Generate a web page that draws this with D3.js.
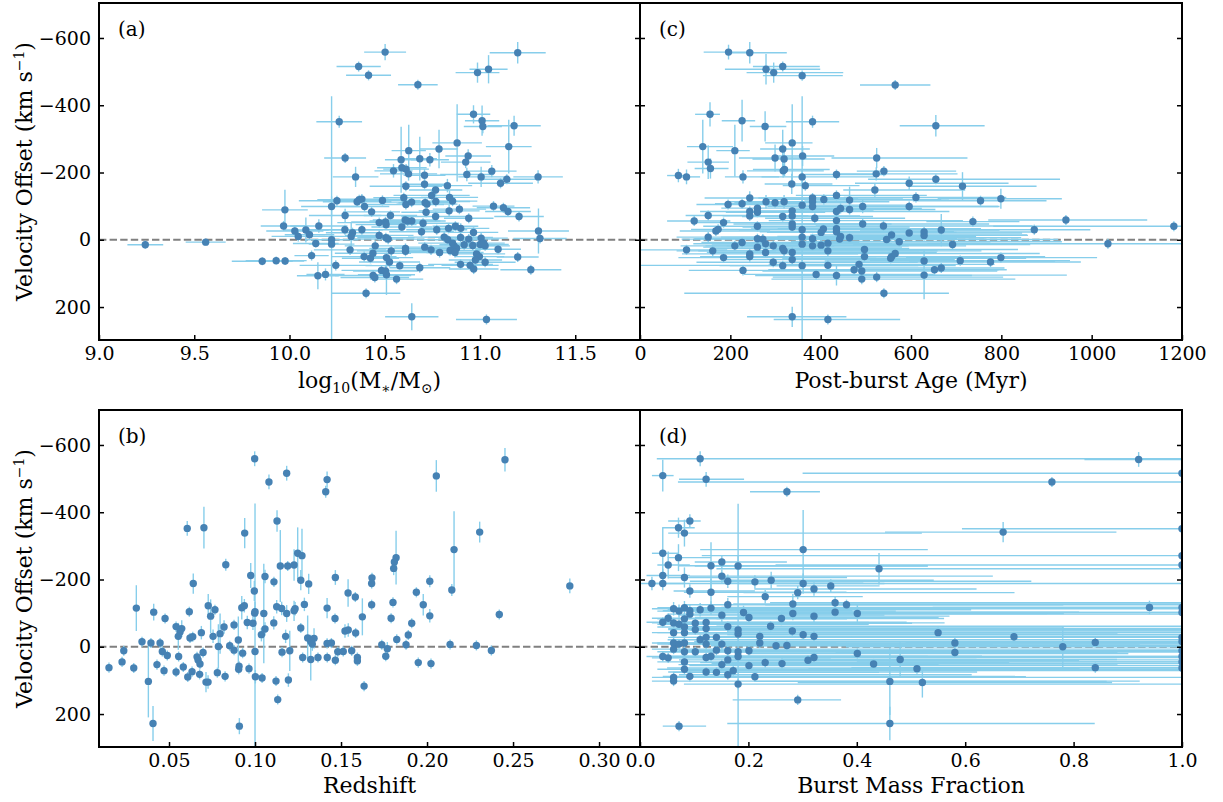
<!DOCTYPE html>
<html>
<head>
<meta charset="utf-8">
<script src="https://cdn.jsdelivr.net/npm/d3@7"></script>
<style>
  body { margin: 0; background: #fff; }
  svg { display: block; }
  text { font-family: 'DejaVu Serif', serif; fill: #000; }
</style>
</head>
<body>
<script>
// velocity ticks shared by all panels
var velTicks = [-600, -400, -200, 0, 200]
var massTicks = [9.0, 9.5, 10.0, 10.5, 11.0, 11.5]
var ageTicks = [0, 200, 400, 600, 800, 1000, 1200]
var zTicks = [0.05, 0.10, 0.15, 0.20, 0.25, 0.30]
var fracTicks = [0.0, 0.2, 0.4, 0.6, 0.8, 1.0]

// (a) [log mass, velocity, mass err, velocity err]
var massPts = [
  [9.243, 15, 0.094, 12], [9.560, 7, 0.105, 10], [9.976, -89, 0.12, 60], [9.969, -41, 0.12, 15],
  [10.028, -26, 0.15, 15], [10.086, -29, 0.12, 37], [10.046, -10, 0.14, 15], [10.105, -15, 0.13, 12],
  [10.154, -41, 0.15, 20], [10.138, 11, 0.12, 12], [10.116, 47, 0.09, 15], [9.857, 64, 0.16, 12],
  [9.930, 62, 0.16, 12], [9.977, 63, 0.10, 12], [10.149, 107, 0.11, 40], [10.189, 103, 0.10, 18],
  [10.502, -558, 0.11, 24], [10.363, -515, 0.116, 15], [10.415, -489, 0.118, 15], [10.674, -461, 0.104, 15],
  [10.987, -497, 0.115, 30], [11.045, -507, 0.10, 42], [11.198, -556, 0.147, 32], [10.261, -351, 0.12, 18],
  [10.221, -99, 0.16, 30], [10.292, -243, 0.11, 15], [10.347, -187, 0.12, 30], [10.966, -373, 0.088, 27],
  [11.011, -354, 0.09, 45], [11.015, -337, 0.10, 20], [11.179, -339, 0.14, 30], [11.151, -277, 0.12, 80],
  [10.880, -288, 0.13, 115], [10.785, -270, 0.10, 57], [10.626, -265, 0.09, 77], [10.586, -238, 0.085, 98],
  [10.684, -241, 0.09, 65], [10.737, -238, 0.10, 20], [10.938, -249, 0.12, 20], [10.925, -231, 0.13, 18],
  [10.546, -205, 0.10, 20], [10.590, -214, 0.13, 15], [10.612, -210, 0.12, 15], [10.625, -196, 0.15, 20],
  [10.709, -192, 0.11, 18], [10.931, -194, 0.14, 20], [11.006, -187, 0.12, 30], [11.062, -204, 0.13, 18],
  [11.108, -168, 0.17, 15], [11.141, -180, 0.15, 15], [11.305, -187, 0.13, 20], [10.709, -165, 0.12, 15],
  [10.611, -159, 0.19, 15], [10.829, -161, 0.13, 20], [10.767, -148, 0.14, 15], [10.746, -132, 0.20, 15],
  [10.600, -125, 0.16, 15], [10.840, -126, 0.15, 20], [10.856, -115, 0.13, 15], [10.768, -114, 0.18, 15],
  [10.641, -112, 0.17, 15], [10.611, -105, 0.20, 15], [10.712, -110, 0.14, 15], [10.722, -106, 0.16, 15],
  [10.488, -117, 0.20, 15], [10.366, -119, 0.22, 15], [10.380, -121, 0.14, 15], [10.355, -113, 0.18, 15],
  [10.394, -99, 0.13, 15], [10.249, -116, 0.20, 15], [10.431, -83, 0.15, 15], [10.292, -72, 0.19, 20],
  [10.530, -72, 0.14, 15], [10.717, -82, 0.13, 15], [10.838, -86, 0.16, 18], [10.892, -91, 0.14, 15],
  [10.767, -69, 0.18, 15], [10.941, -64, 0.13, 15], [11.071, -100, 0.11, 15], [11.123, -95, 0.14, 15],
  [11.147, -84, 0.12, 15], [11.205, -69, 0.13, 15], [10.471, -51, 0.22, 15], [10.504, -53, 0.18, 15],
  [10.507, -45, 0.16, 15], [10.607, -59, 0.17, 15], [10.620, -56, 0.20, 15], [10.642, -56, 0.15, 15],
  [10.701, -49, 0.19, 15], [10.590, -38, 0.16, 15], [10.291, -30, 0.20, 15], [10.331, -21, 0.14, 15],
  [10.324, -10, 0.17, 40], [10.380, -30, 0.21, 15], [10.471, -13, 0.18, 15], [10.506, -6, 0.15, 15],
  [10.518, -2, 0.19, 15], [10.693, -24, 0.17, 15], [10.773, -30, 0.16, 15], [10.835, -34, 0.14, 15],
  [10.871, -40, 0.12, 15], [10.899, -34, 0.15, 15], [10.966, -22, 0.13, 15], [10.812, -8, 0.19, 15],
  [10.831, 0, 0.16, 15], [10.856, 10, 0.18, 15], [10.864, 18, 0.14, 15], [10.877, 25, 0.15, 15],
  [10.898, -7, 0.17, 15], [10.917, 15, 0.13, 15], [10.941, -2, 0.16, 15], [10.962, 17, 0.12, 15],
  [11.006, -5, 0.14, 15], [11.001, 14, 0.15, 15], [11.027, 18, 0.13, 15], [11.020, 10, 0.11, 15],
  [10.221, 0, 0.14, 15], [10.221, 13, 0.12, 440], [11.307, -26, 0.16, 67], [11.315, -4, 0.14, 15],
  [10.318, 30, 0.19, 15], [10.392, 50, 0.17, 15], [10.425, 55, 0.15, 15], [10.438, 40, 0.20, 15],
  [10.450, 18, 0.16, 15], [10.534, 33, 0.18, 15], [10.509, 53, 0.14, 15], [10.525, 66, 0.16, 15],
  [10.609, 26, 0.19, 15], [10.609, 34, 0.17, 15], [10.710, 22, 0.16, 15], [10.743, 30, 0.14, 15],
  [10.788, 38, 0.18, 15], [10.843, 32, 0.16, 15], [10.869, 38, 0.15, 15], [10.982, 42, 0.15, 15],
  [10.997, 50, 0.13, 15], [10.976, 60, 0.14, 15], [11.027, 67, 0.16, 15], [11.095, 28, 0.12, 15],
  [11.198, 51, 0.11, 15], [11.267, 89, 0.16, 15], [10.898, 73, 0.17, 15], [10.948, 76, 0.15, 15],
  [10.967, 87, 0.13, 15], [10.243, 76, 0.19, 15], [10.579, 77, 0.18, 15], [10.684, 83, 0.16, 15],
  [10.483, 91, 0.21, 15], [10.504, 93, 0.17, 15], [10.509, 104, 0.15, 60], [10.439, 106, 0.20, 15],
  [10.448, 112, 0.18, 15], [10.562, 117, 0.14, 15], [10.402, 159, 0.18, 15], [10.642, 229, 0.14, 40],
  [11.034, 237, 0.16, 15]
]

// (c) [age Myr, velocity, age err low, age err high, velocity err]
var agePts = [
  [196, -558, 55, 55, 22], [243, -556, 51, 82, 32], [279, -507, 91, 120, 45], [296, -497, 60, 154, 30],
  [316, -515, 66, 82, 15], [359, -488, 87, 90, 15], [565, -460, 78, 78, 15], [155, -373, 33, 22, 36],
  [226, -354, 45, 29, 62], [277, -337, 34, 47, 45], [382, -351, 59, 59, 18], [139, -277, 35, 67, 80],
  [210, -265, 41, 33, 77], [337, -288, 60, 45, 115], [151, -231, 46, 46, 50], [156, -212, 35, 40, 30],
  [316, -270, 50, 60, 57], [299, -243, 80, 70, 40], [319, -240, 70, 90, 30], [360, -249, 60, 70, 30],
  [317, -205, 80, 90, 20], [320, -209, 70, 100, 20], [85, -191, 25, 20, 20], [103, -187, 20, 30, 22],
  [228, -187, 40, 80, 20], [359, -187, 90, 160, 20], [336, -166, 60, 90, 30], [366, -161, 50, 120, 15],
  [435, -194, 70, 110, 15], [524, -243, 100, 201, 30], [523, -196, 80, 180, 20], [540, -204, 60, 160, 15],
  [520, -148, 70, 200, 20], [596, -168, 120, 220, 20], [243, -124, 100, 240, 20], [195, -105, 70, 110, 15],
  [226, -107, 60, 140, 15], [279, -113, 80, 120, 20], [299, -110, 90, 160, 15], [319, -113, 70, 150, 20],
  [243, -84, 110, 160, 15], [260, -94, 80, 200, 15], [260, -82, 70, 150, 15], [243, -71, 60, 130, 15],
  [316, -69, 90, 200, 15], [337, -86, 70, 180, 15], [337, -71, 100, 150, 15], [359, -103, 80, 240, 15],
  [382, -124, 120, 200, 15], [382, -113, 90, 170, 15], [382, -99, 100, 220, 15], [407, -120, 130, 260, 15],
  [435, -132, 90, 200, 15], [387, -64, 110, 200, 15], [435, -84, 120, 250, 15], [444, -93, 90, 180, 15],
  [464, -118, 100, 220, 40], [464, -90, 120, 190, 15], [493, -99, 110, 300, 20], [596, -99, 130, 200, 15],
  [120, -56, 60, 80, 15], [151, -72, 50, 110, 15], [185, -51, 70, 150, 15], [168, -26, 80, 120, 15],
  [173, -31, 60, 140, 15], [151, -8, 70, 160, 15], [260, -40, 120, 180, 15], [337, -47, 130, 220, 15],
  [337, -38, 110, 260, 15], [359, -30, 140, 240, 15], [406, -32, 160, 260, 15], [401, -22, 120, 300, 15],
  [435, -57, 150, 280, 15], [435, -33, 130, 320, 20], [435, -24, 170, 260, 15], [444, -10, 140, 300, 15],
  [493, -47, 160, 280, 15], [539, -41, 150, 330, 15], [557, -14, 180, 300, 15], [596, -20, 160, 250, 15],
  [103, 30, 103, 90, 15], [161, 33, 80, 140, 15], [185, 53, 100, 160, 15], [210, 18, 120, 220, 15],
  [226, 8, 90, 260, 15], [243, 42, 150, 240, 15], [243, 50, 110, 280, 15], [260, -3, 140, 300, 15],
  [260, 22, 120, 320, 15], [278, 12, 160, 280, 15], [278, 38, 130, 340, 15], [272, -2, 180, 260, 15],
  [295, 18, 150, 300, 15], [295, 67, 170, 320, 15], [316, 26, 160, 280, 15], [319, 33, 190, 340, 15],
  [316, 77, 140, 300, 15], [337, 38, 170, 320, 15], [337, 59, 150, 360, 15], [359, -8, 180, 300, 15],
  [359, 13, 200, 360, 440], [359, 77, 160, 340, 20], [382, -3, 170, 320, 15], [382, 18, 190, 340, 15],
  [401, 16, 180, 300, 15], [416, 10, 200, 360, 15], [416, 33, 170, 340, 15], [416, 76, 416, 100, 15],
  [390, 103, 160, 260, 15], [435, 106, 180, 300, 30], [442, -2, 200, 320, 15], [464, -6, 180, 380, 15],
  [497, 29, 200, 340, 15], [497, 50, 210, 360, 15], [474, 89, 190, 320, 15], [485, 73, 200, 300, 15],
  [491, 93, 220, 300, 15], [491, 117, 200, 340, 15], [524, 111, 230, 280, 15], [546, -1, 210, 380, 15],
  [555, 55, 240, 300, 15], [557, 50, 220, 340, 15], [565, 41, 230, 320, 15], [574, 6, 240, 360, 15],
  [540, 159, 442, 144, 15], [228, 91, 120, 260, 15], [337, 229, 100, 120, 30], [416, 237, 120, 160, 15],
  [655, -339, 80, 108, 32], [655, -180, 150, 275, 15], [714, -159, 120, 164, 42], [611, -126, 160, 200, 15],
  [754, -116, 150, 146, 15], [799, -122, 140, 135, 30], [737, -54, 103, 103, 15], [943, -59, 172, 180, 15],
  [1182, -40, 400, 20, 15], [667, -29, 180, 129, 48], [629, -23, 200, 250, 15], [629, -13, 180, 230, 15],
  [873, -30, 297, 124, 15], [692, 14, 220, 172, 15], [1036, 12, 400, 180, 15], [629, 63, 220, 290, 15],
  [709, 62, 200, 243, 15], [776, 66, 180, 200, 15], [799, 53, 210, 213, 15], [652, 89, 200, 160, 15],
  [667, 84, 190, 140, 15], [629, 105, 180, 316, 72]
]

// (b) [redshift, velocity, velocity err]
var zPts = [
  [0.0998, -559, 22], [0.1184, -516, 22], [0.1081, -490, 22], [0.1419, -497, 24], [0.1411, -461, 18],
  [0.0606, -352, 22], [0.0703, -354, 62], [0.0940, -338, 45], [0.1128, -374, 32], [0.1248, -278, 77],
  [0.1273, -271, 80], [0.0830, -244, 18], [0.1147, -240, 107], [0.1190, -240, 15], [0.1227, -243, 47],
  [0.0975, -212, 37], [0.1058, -209, 20], [0.1266, -198, 30], [0.1110, -193, 15], [0.1312, -187, 30],
  [0.0641, -188, 30], [0.1467, -206, 22], [0.0996, -166, 30], [0.1541, -160, 41], [0.1583, -148, 15],
  [0.0310, -115, 68], [0.0411, -103, 25], [0.0618, -104, 15], [0.0728, -122, 35], [0.0767, -110, 15],
  [0.0742, -91, 50], [0.0477, -84, 15], [0.0923, -116, 35], [0.0938, -122, 20], [0.1000, -104, 30],
  [0.0998, -100, 20], [0.1051, -99, 148], [0.1126, -119, 20], [0.1155, -114, 20], [0.1184, -99, 25],
  [0.1227, -107, 30], [0.1233, -113, 20], [0.1287, -126, 20], [0.1419, -115, 30], [0.1465, -84, 15],
  [0.1624, -89, 55], [0.0541, -60, 15], [0.0574, -54, 25], [0.0564, -44, 20], [0.0554, -31, 40],
  [0.0622, -26, 15], [0.0638, -30, 15], [0.0688, -42, 20], [0.0756, -31, 20], [0.0797, -39, 60],
  [0.0820, -59, 20], [0.0878, -65, 15], [0.0955, -72, 20], [0.0988, -70, 20], [0.1109, -71, 20],
  [0.1058, -53, 20], [0.1037, -36, 20], [0.1178, -31, 20], [0.1266, -56, 15], [0.1306, -26, 67],
  [0.1343, -25, 30], [0.1324, -16, 20], [0.1333, -8, 20], [0.1419, -10, 15], [0.1444, -11, 15],
  [0.1523, -47, 20], [0.1542, -50, 20], [0.1585, -41, 15], [0.0343, -15, 15], [0.0395, -11, 15],
  [0.0448, -11, 15], [0.0903, -20, 70], [0.0787, -1, 66], [0.0853, -3, 15], [0.0878, 10, 15],
  [0.0151, 62, 15], [0.0227, 45, 15], [0.0295, 63, 15], [0.0237, 12, 15], [0.0461, 14, 15],
  [0.0490, 26, 15], [0.0430, 53, 15], [0.0471, 71, 15], [0.0380, 103, 107], [0.0407, 228, 52],
  [0.0541, 75, 15], [0.0556, 29, 15], [0.0583, 60, 15], [0.0609, 90, 15], [0.0634, 74, 15],
  [0.0663, 30, 15], [0.0669, 39, 15], [0.0680, 51, 15], [0.0678, 82, 15], [0.0698, 17, 15],
  [0.0715, 105, 30], [0.0727, 105, 20], [0.0781, 77, 15], [0.0826, 88, 15], [0.0907, 58, 15],
  [0.0905, 67, 15], [0.0928, 19, 15], [0.0965, 65, 15], [0.1000, 14, 440], [0.1002, 89, 20],
  [0.1041, 93, 15], [0.1122, 102, 15], [0.1132, 157, 15], [0.1157, 16, 15], [0.1194, 99, 20],
  [0.1202, 12, 60], [0.1277, 32, 15], [0.1324, 38, 62], [0.1366, 32, 15], [0.1420, 32, 15],
  [0.1467, 40, 15], [0.1481, 15, 15], [0.1513, 14, 15], [0.1562, 12, 15], [0.1595, 32, 15],
  [0.1595, 42, 15], [0.1634, 117, 15], [0.0909, 236, 24],
  [0.2054, -508, 47], [0.2453, -556, 35], [0.2157, -289, 114], [0.2306, -341, 31], [0.1820, -265, 80],
  [0.1810, -252, 20], [0.1806, -233, 20], [0.1680, -205, 15], [0.1678, -188, 15], [0.1678, -125, 15],
  [0.2016, -195, 18], [0.1938, -162, 15], [0.1802, -132, 15], [0.1978, -125, 32], [0.2144, -169, 18],
  [0.2016, -92, 20], [0.1791, -85, 15], [0.1911, -70, 15], [0.1891, -35, 15], [0.1824, -22, 15],
  [0.1878, -6, 15], [0.1737, -6, 15], [0.1769, 6, 20], [0.1760, 28, 15], [0.1949, 47, 15],
  [0.2023, 50, 15], [0.2134, -7, 15], [0.2287, -4, 15], [0.2374, 11, 15], [0.2420, -96, 15],
  [0.2830, -181, 22]
]

// (d) [burst fraction, velocity, frac err low, frac err high, velocity err]
var fracPts = [
  [0.111, -559, 0.08, 0.889, 22], [0.042, -509, 0.02, 0.02, 47], [0.122, -498, 0.05, 0.07, 22],
  [0.271, -461, 0.068, 0.061, 15], [0.092, -374, 0.04, 0.02, 20], [0.071, -354, 0.03, 0.03, 30],
  [0.082, -338, 0.03, 0.438, 40], [0.042, -278, 0.02, 0.03, 77], [0.071, -265, 0.02, 0.06, 40],
  [0.052, -243, 0.02, 0.04, 40], [0.301, -289, 0.19, 0.23, 118], [0.042, -212, 0.03, 0.05, 20],
  [0.042, -188, 0.02, 0.04, 20], [0.022, -188, 0.02, 0.978, 20], [0.082, -206, 0.03, 0.30, 30],
  [0.092, -166, 0.03, 0.12, 20], [0.131, -241, 0.06, 0.40, 70], [0.151, -252, 0.05, 0.12, 20],
  [0.181, -240, 0.08, 0.35, 30], [0.151, -210, 0.06, 0.50, 20], [0.162, -195, 0.07, 0.56, 20],
  [0.131, -162, 0.05, 0.25, 40], [0.212, -193, 0.08, 0.20, 20], [0.242, -198, 0.09, 0.30, 25],
  [0.231, -149, 0.07, 0.18, 20], [0.301, -188, 0.12, 0.15, 30], [0.291, -161, 0.10, 0.40, 20],
  [0.321, -172, 0.11, 0.30, 20], [0.352, -181, 0.10, 0.09, 20], [0.282, -127, 0.11, 0.718, 30],
  [0.282, -99, 0.09, 0.50, 20], [0.360, -131, 0.12, 0.640, 20], [0.360, -103, 0.10, 0.45, 20],
  [0.162, -125, 0.08, 0.838, 20], [0.062, -113, 0.04, 0.938, 20], [0.072, -106, 0.04, 0.40, 20],
  [0.082, -116, 0.05, 0.918, 20], [0.092, -107, 0.05, 0.30, 20], [0.092, -97, 0.04, 0.908, 15],
  [0.111, -110, 0.06, 0.50, 20], [0.131, -115, 0.07, 0.869, 20], [0.151, -94, 0.08, 0.30, 20],
  [0.191, -102, 0.09, 0.809, 20], [0.201, -87, 0.10, 0.35, 20], [0.261, -84, 0.12, 0.30, 20],
  [0.321, -91, 0.14, 0.25, 20], [0.042, -73, 0.03, 0.45, 15], [0.052, -85, 0.03, 0.20, 15],
  [0.062, -71, 0.04, 0.50, 15], [0.072, -67, 0.04, 0.35, 15], [0.082, -83, 0.05, 0.30, 15],
  [0.082, -59, 0.05, 0.70, 15], [0.102, -70, 0.06, 0.40, 15], [0.122, -72, 0.06, 0.30, 15],
  [0.102, -51, 0.05, 0.898, 15], [0.122, -54, 0.07, 0.878, 15], [0.062, -42, 0.04, 0.938, 15],
  [0.082, -42, 0.05, 0.60, 15], [0.162, -60, 0.08, 0.838, 15], [0.181, -50, 0.09, 0.819, 15],
  [0.181, -38, 0.10, 0.70, 15], [0.241, -61, 0.10, 0.759, 15], [0.221, -31, 0.11, 0.779, 15],
  [0.281, -47, 0.12, 0.719, 15], [0.301, -36, 0.14, 0.699, 15], [0.321, -31, 0.15, 0.679, 15],
  [0.111, -21, 0.06, 0.889, 15], [0.122, -28, 0.07, 0.878, 15], [0.141, -28, 0.08, 0.859, 15],
  [0.122, -8, 0.07, 0.80, 15], [0.062, -11, 0.04, 0.30, 15], [0.072, -8, 0.04, 0.928, 15],
  [0.082, -11, 0.05, 0.30, 15], [0.151, -8, 0.09, 0.50, 15], [0.221, -11, 0.12, 0.779, 15],
  [0.251, -3, 0.12, 0.60, 15], [0.271, -4, 0.13, 0.729, 15], [0.062, 7, 0.04, 0.938, 15],
  [0.082, 15, 0.05, 0.35, 15], [0.102, 15, 0.06, 0.898, 15], [0.141, 10, 0.08, 0.40, 15],
  [0.162, 12, 0.09, 0.838, 15], [0.181, 15, 0.10, 0.819, 440], [0.201, 12, 0.11, 0.45, 15],
  [0.042, 29, 0.03, 0.958, 15], [0.052, 33, 0.03, 0.30, 15], [0.122, 32, 0.07, 0.878, 15],
  [0.131, 28, 0.08, 0.50, 15], [0.162, 39, 0.09, 0.838, 15], [0.181, 29, 0.10, 0.35, 15],
  [0.082, 45, 0.05, 0.918, 15], [0.151, 53, 0.08, 0.40, 15], [0.201, 56, 0.11, 0.799, 15],
  [0.231, 47, 0.12, 0.45, 15], [0.262, 50, 0.13, 0.738, 15], [0.310, 40, 0.15, 0.50, 15],
  [0.321, 32, 0.15, 0.30, 15], [0.082, 67, 0.05, 0.918, 15], [0.122, 75, 0.07, 0.50, 15],
  [0.141, 76, 0.08, 0.30, 15], [0.162, 83, 0.09, 0.45, 15], [0.172, 71, 0.09, 0.828, 15],
  [0.092, 88, 0.05, 0.60, 15], [0.062, 91, 0.04, 0.938, 15], [0.062, 102, 0.04, 0.86, 15],
  [0.212, 89, 0.11, 0.50, 15], [0.181, 111, 0.10, 0.88, 15], [0.072, 236, 0.03, 0.05, 15],
  [0.291, 158, 0.12, 0.08, 15],
  [0.920, -557, 0.10, 0.08, 22], [1.0, -516, 0.70, 0.0, 20], [0.760, -490, 0.69, 0.24, 15],
  [0.670, -341, 0.218, 0.209, 30], [1.0, -351, 0.406, 0.0, 20], [1.0, -271, 0.886, 0.0, 20],
  [1.0, -243, 0.75, 0.0, 20], [0.441, -232, 0.30, 0.559, 47], [0.381, -125, 0.15, 0.40, 15],
  [0.401, -99, 0.18, 0.35, 25], [0.940, -117, 0.40, 0.06, 20], [1.0, -117, 0.85, 0.0, 15],
  [1.0, -102, 0.60, 0.0, 15], [0.550, -42, 0.25, 0.45, 15], [0.690, -30, 0.30, 0.31, 15],
  [0.581, -11, 0.20, 0.419, 15], [0.581, 17, 0.22, 0.30, 15], [0.780, 0, 0.40, 0.22, 60],
  [0.840, -13, 0.35, 0.16, 15], [0.840, 62, 0.45, 0.16, 15], [0.401, 20, 0.20, 0.50, 15],
  [0.431, 51, 0.18, 0.45, 15], [0.480, 38, 0.22, 0.40, 55], [0.511, 65, 0.20, 0.30, 15],
  [0.461, 103, 0.25, 0.40, 100], [0.521, 106, 0.23, 0.35, 45], [0.461, 228, 0.30, 0.378, 50],
  [1.0, -28, 0.80, 0.0, 15], [1.0, -16, 0.90, 0.0, 15], [1.0, 12, 0.70, 0.0, 15],
  [1.0, 29, 0.85, 0.0, 15], [1.0, 45, 0.60, 0.0, 15], [1.0, 63, 0.95, 0.0, 15]
]

var width = 1223
var height = 802
var ptColor = '#4682b4'
var barColor = '#87ceeb'

var svg = d3.select('body').append('svg')
  .attr('width', width)
  .attr('height', height)

// convert each panel's rows into a common shape
function rowsSym (pts) {
  return pts.map(function (d) { return { x: d[0], v: d[1], xlo: d[2], xhi: d[2], ve: d[3] } })
}
function rowsAsym (pts) {
  return pts.map(function (d) { return { x: d[0], v: d[1], xlo: d[2], xhi: d[3], ve: d[4] } })
}
function rowsNoX (pts) {
  return pts.map(function (d) { return { x: d[0], v: d[1], xlo: 0, xhi: 0, ve: d[2] } })
}

var panels = [
  { id: 'a', left: 99, right: 640, top: 3, bottom: 340, domain: [9.0, 11.84], ticks: massTicks, fmt: d3.format('.1f'), rows: rowsSym(massPts), xbars: true },
  { id: 'c', left: 640, right: 1182, top: 3, bottom: 340, domain: [0, 1200], ticks: ageTicks, fmt: d3.format('d'), rows: rowsAsym(agePts), xbars: true },
  { id: 'b', left: 99, right: 640, top: 410, bottom: 747, domain: [0.0093, 0.3238], ticks: zTicks, fmt: d3.format('.2f'), rows: rowsNoX(zPts), xbars: false },
  { id: 'd', left: 640, right: 1182, top: 410, bottom: 747, domain: [0, 1], ticks: fracTicks, fmt: d3.format('.1f'), rows: rowsAsym(fracPts), xbars: true }
]

panels.forEach(function (p) {
  var x = d3.scaleLinear().domain(p.domain).range([p.left, p.right])
  var y = d3.scaleLinear().domain([-704, 298]).range([p.top, p.bottom])

  var clipId = 'clip-' + p.id
  svg.append('clipPath').attr('id', clipId)
    .append('rect')
    .attr('x', p.left).attr('y', p.top)
    .attr('width', p.right - p.left).attr('height', p.bottom - p.top)

  var plot = svg.append('g').attr('clip-path', 'url(#' + clipId + ')')

  // zero line
  plot.append('line')
    .attr('x1', p.left).attr('x2', p.right)
    .attr('y1', y(0)).attr('y2', y(0))
    .attr('stroke', '#808080')
    .attr('stroke-width', 2)
    .attr('stroke-dasharray', '7.4,3.2')

  // error bars
  if (p.xbars) {
    plot.append('g').selectAll('line')
      .data(p.rows.filter(function (d) { return d.xlo + d.xhi > 0 }))
      .enter().append('line')
      .attr('x1', function (d) { return x(d.x - d.xlo) })
      .attr('x2', function (d) { return x(d.x + d.xhi) })
      .attr('y1', function (d) { return y(d.v) })
      .attr('y2', function (d) { return y(d.v) })
      .attr('stroke', barColor)
      .attr('stroke-width', 1.4)
  }
  plot.append('g').selectAll('line')
    .data(p.rows)
    .enter().append('line')
    .attr('x1', function (d) { return x(d.x) })
    .attr('x2', function (d) { return x(d.x) })
    .attr('y1', function (d) { return y(d.v - d.ve) })
    .attr('y2', function (d) { return y(d.v + d.ve) })
    .attr('stroke', barColor)
    .attr('stroke-width', 1.4)

  // points
  plot.append('g').selectAll('circle')
    .data(p.rows)
    .enter().append('circle')
    .attr('cx', function (d) { return x(d.x) })
    .attr('cy', function (d) { return y(d.v) })
    .attr('r', 3.7)
    .attr('fill', ptColor)

  // axes, ticks pointing inward
  var xAxis = d3.axisBottom(x).tickValues(p.ticks).tickFormat(p.fmt)
    .tickSizeInner(-5).tickSizeOuter(0).tickPadding(7)
  var gx = svg.append('g')
    .attr('transform', 'translate(0,' + p.bottom + ')')
    .call(xAxis)

  var yAxis = d3.axisLeft(y).tickValues(velTicks)
    .tickSizeInner(-5).tickSizeOuter(0).tickPadding(8)
  var gy = svg.append('g')
    .attr('transform', 'translate(' + p.left + ',0)')
    .call(yAxis)
  if (p.left !== 99) gy.selectAll('text').remove()

  var gr = svg.append('g')
    .attr('transform', 'translate(' + p.right + ',0)')
    .call(d3.axisRight(y).tickValues(velTicks).tickFormat('').tickSizeInner(-5).tickSizeOuter(0))

  ;[gx, gy, gr].forEach(function (g) {
    g.select('.domain').remove()
    g.selectAll('.tick line').attr('stroke', '#000').attr('stroke-width', 1.5)
    g.selectAll('.tick text')
      .style('font-family', "'DejaVu Serif', serif")
      .style('font-size', '19px')
      .attr('fill', '#000')
  })

  // frame
  svg.append('rect')
    .attr('x', p.left).attr('y', p.top)
    .attr('width', p.right - p.left).attr('height', p.bottom - p.top)
    .attr('fill', 'none')
    .attr('stroke', '#000')
    .attr('stroke-width', 2)

  // panel letter
  svg.append('text')
    .attr('x', p.left + 19)
    .attr('y', p.top + 33)
    .style('font-size', '20px')
    .text('(' + p.id + ')')
})

// axis titles
function xTitle (cx, cy) {
  return svg.append('text')
    .attr('x', cx).attr('y', cy)
    .attr('text-anchor', 'middle')
    .style('font-size', '22px')
}

var massTitle = xTitle(369.5, 388)
massTitle.append('tspan').text('log')
massTitle.append('tspan').attr('dy', 5).style('font-size', '14px').text('10')
massTitle.append('tspan').attr('dy', -5).text('(M')
massTitle.append('tspan').attr('dy', 5).style('font-size', '14px').text('∗')
massTitle.append('tspan').attr('dy', -5).text('/M')
massTitle.append('tspan').attr('dy', 5).style('font-size', '14px').text('⊙')
massTitle.append('tspan').attr('dy', -5).text(')')

xTitle(911, 388).text('Post-burst Age (Myr)')
xTitle(369.5, 793).text('Redshift')
xTitle(911, 793).text('Burst Mass Fraction')

;[171.5, 578.5].forEach(function (cy) {
  var t = svg.append('text')
    .attr('transform', 'translate(32,' + cy + ') rotate(-90)')
    .attr('text-anchor', 'middle')
    .style('font-size', '22px')
  t.append('tspan').text('Velocity Offset (km s')
  t.append('tspan').attr('dy', -8).style('font-size', '14px').text('−1')
  t.append('tspan').attr('dy', 8).text(')')
})
</script>
</body>
</html>
